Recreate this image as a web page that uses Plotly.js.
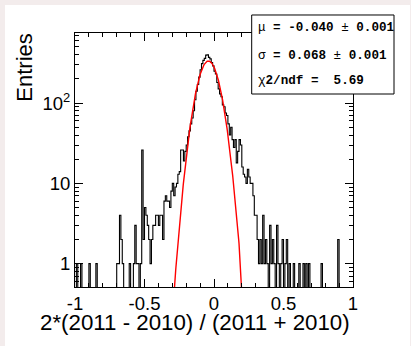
<!DOCTYPE html>
<html><head><meta charset="utf-8">
<script src="https://cdn.plot.ly/plotly-3.0.1.min.js"></script>
<style>
html,body{margin:0;padding:0;background:#f3ecec;width:411px;height:346px;overflow:hidden;}
#chart{position:absolute;left:5px;top:5px;width:405px;height:341px;background:#fff;}
</style></head><body><div id="chart"></div>
<script>
// histogram definition: 200 bins from -1 to 1
const xMin = -1, xMax = 1;
const counts = [
  0,1,0,0,1,0,0,0,0,0,
  1,0,0,0,0,1,0,0,0,0,
  0,0,0,0,0,0,0,0,0,0,
  1,1,4,2,1,0,0,0,0,1,
  0,0,1,3,1,1,0,1,26,2,
  5,4,3,2,1,2,3,3,4,4,
  3,4,4,2,6,7,6,6,5,8,
  10,7,9,10,13,14,26,26,19,25,
  30,38,45,55,65,80,110,140,170,210,
  260,310,340,360,395,400,370,355,320,290,
  250,230,180,150,130,120,95,90,75,70,
  55,40,50,35,28,35,18,25,35,30,
  16,13,12,10,15,12,10,10,7,4,
  4,2,1,2,1,4,1,2,1,0,
  3,1,2,1,0,3,1,0,1,2,
  0,1,2,0,1,0,0,1,0,0,
  0,1,0,0,1,0,1,0,1,0,
  0,0,0,0,0,0,0,1,0,0,
  0,0,0,0,0,0,0,0,0,2,
  0,0,0,0,0,0,0,0,0,0
];
// Gaussian fit parameters (from stats box)
const fitMu = -0.040, fitSigma = 0.068, fitAmp = 334;
const statsLines = [
  "μ<b> = -0.040 </b>±<b> 0.001</b>",
  "σ<b> = 0.068 </b>±<b> 0.001</b>",
  "χ<b>2/ndf =  5.69</b>"
];
const xTickVals = [-1, -0.5, 0, 0.5, 1];
const xTickText = ['-1', '-0.5', '0', '0.5', '1'];
const yTickVals = [1, 10, 100];
const yTickText = ['1', '10', '10<sup>2</sup>'];
const yMinorVals = [0.6,0.7,0.8,0.9,2,3,4,5,6,7,8,9,20,30,40,50,60,70,80,90,200,300,400,500,600,700];
const xTitle = '2*(2011 - 2010) / (2011 + 2010)';
const yTitle = 'Entries';

const nb = counts.length;
const bw = (xMax - xMin) / nb;
const hx = [xMin], hy = [1e-3];
for (let i = 0; i < nb; i++) {
  hx.push(xMin + (i + 0.5) * bw);
  hy.push(counts[i] > 0 ? counts[i] : 1e-3);
}
hx.push(xMax); hy.push(1e-3);

const fx = [], fy = [];
for (let i = 0; i <= 1000; i++) {
  const x = xMin + i * (xMax - xMin) / 1000;
  fx.push(x);
  fy.push(fitAmp * Math.exp(-0.5 * Math.pow((x - fitMu) / fitSigma, 2)));
}

const traces = [
  {x: hx, y: hy, type: 'scatter', mode: 'lines', line: {shape: 'hvh', color: 'black', width: 1.1}, hoverinfo: 'skip'},
  {x: fx, y: fy, type: 'scatter', mode: 'lines', line: {color: 'red', width: 1.4}, hoverinfo: 'skip'}
];

const axFont = {family: 'Liberation Sans, Arial, sans-serif', size: 18.5, color: 'black'};
const layout = {
  width: 405, height: 341,
  margin: {l: 70, r: 57, t: 28, b: 59},
  paper_bgcolor: 'white', plot_bgcolor: 'white',
  showlegend: false,
  xaxis: {
    range: [xMin, xMax], showgrid: false, zeroline: false,
    showline: true, linecolor: 'black', linewidth: 1, mirror: 'ticks',
    ticks: 'inside', ticklen: 7.6, tickwidth: 1, tickcolor: 'black',
    tickmode: 'array', tickvals: xTickVals, ticktext: xTickText,
    tickfont: axFont,
    minor: {ticks: 'inside', ticklen: 3.8, dtick: 0.1, tick0: 0, tickcolor: 'black', showgrid: false}
  },
  yaxis: {
    type: 'log', range: [Math.log10(0.512), Math.log10(745)], showgrid: false, zeroline: false,
    showline: true, linecolor: 'black', linewidth: 1, mirror: 'ticks',
    ticks: 'inside', ticklen: 8.3, tickwidth: 1, tickcolor: 'black',
    tickmode: 'array', tickvals: yTickVals, ticktext: yTickText,
    tickfont: axFont,
    minor: {ticks: 'inside', ticklen: 4.2, tickmode: 'array', tickvals: yMinorVals, tickcolor: 'black', showgrid: false}
  },
  shapes: [
    {type: 'rect', xref: 'paper', yref: 'paper', x0: 0.6356, x1: 1.1475, y0: 0.7598, y1: 1.0709,
     fillcolor: 'white', line: {color: 'black', width: 1}, layer: 'above'}
  ],
  annotations: [
    {text: xTitle, xref: 'paper', yref: 'paper', x: 0.998, y: -0.1417, xanchor: 'right', yanchor: 'middle',
     showarrow: false, font: {family: 'Liberation Sans, Arial, sans-serif', size: 22.3, color: 'black'}},
    {text: yTitle, xref: 'paper', yref: 'paper', x: -0.1799, y: 1.005, xanchor: 'center', yanchor: 'top',
     textangle: -90, showarrow: false, font: {family: 'Liberation Sans, Arial, sans-serif', size: 22, color: 'black'}},
  ].concat(statsLines.map((t, i) => ({
    text: t, xref: 'paper', yref: 'paper', x: 0.652, y: [1.0185, 0.9114, 0.811][i],
    xanchor: 'left', yanchor: 'middle', showarrow: false,
    font: {family: 'Liberation Mono, Courier New, monospace', size: 12.6, color: 'black'}
  })))
};
Plotly.newPlot('chart', traces, layout, {staticPlot: true, displayModeBar: false});
</script></body></html>
